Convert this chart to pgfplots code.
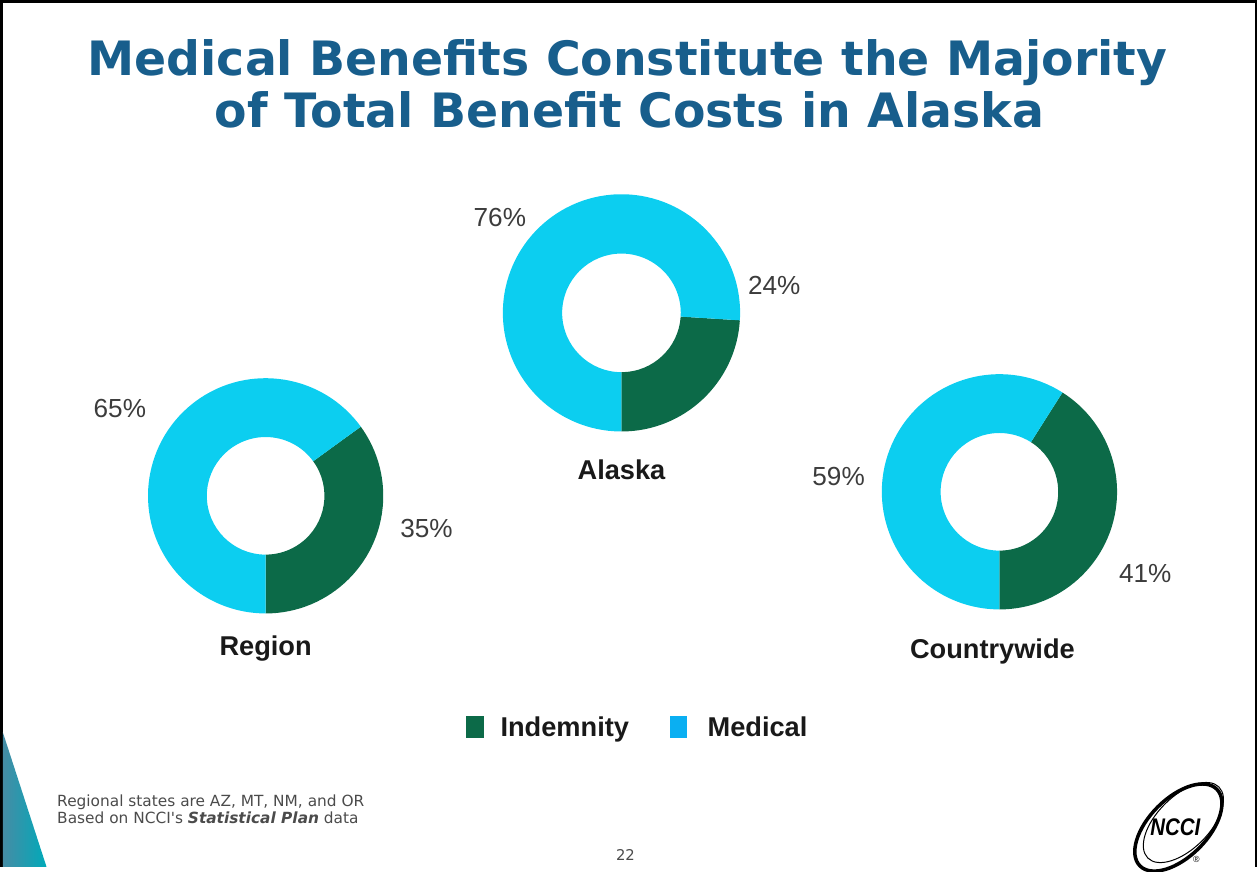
\documentclass[border=0pt]{standalone}
\usepackage{pgfplots}
\pgfplotsset{compat=1.18}
\usepackage{pgfplotstable}
\usetikzlibrary{calc}
\usepackage{fontspec}
\setmainfont{Liberation Sans}
\newfontfamily\verdana{DejaVu Sans}

\definecolor{indem}{RGB}{12,106,72}
\definecolor{medic}{RGB}{12,206,240}
\definecolor{titleblue}{RGB}{24,94,140}
\definecolor{labgray}{RGB}{60,60,60}
\definecolor{notegray}{RGB}{75,75,75}

% one row per doughnut: centre, outer radius, shares, label positions (pixels, y down)
\pgfplotstableread{
name        cx   cy   rr   ind med ix   iy  mx  my  nx  ny
Region      270  498  117  35  65  430  531 125 411 270 657
Alaska      624  316  118  24  76  776  289 503 221 624 482
Countrywide 1000 494  117  41  59  1145 575 840 479 993 660
}\donuts

\newcommand\getd[2]{\pgfplotstablegetelem{#1}{#2}\of\donuts}
\newcommand\donut[1]{%
  \getd{#1}{cx}\let\cx\pgfplotsretval
  \getd{#1}{cy}\let\cy\pgfplotsretval
  \getd{#1}{rr}\let\rr\pgfplotsretval
  \getd{#1}{ind}\let\pind\pgfplotsretval
  \getd{#1}{med}\let\pmed\pgfplotsretval
  \getd{#1}{ix}\let\ix\pgfplotsretval
  \getd{#1}{iy}\let\iy\pgfplotsretval
  \getd{#1}{mx}\let\mx\pgfplotsretval
  \getd{#1}{my}\let\my\pgfplotsretval
  \getd{#1}{nx}\let\nx\pgfplotsretval
  \getd{#1}{ny}\let\ny\pgfplotsretval
  \getd{#1}{name}\let\dname\pgfplotsretval
  \pgfmathsetmacro\ea{-90+3.6*\pind}
  \pgfmathsetmacro\ro{0.1*\rr}
  \pgfmathsetmacro\ri{0.05*\rr}
  \edef\doit{%
    \noexpand\fill[indem] ($(axis cs:\cx,\cy)+(-90:\ro mm)$) arc[start angle=-90,end angle=\ea,radius=\ro mm]
      -- ($(axis cs:\cx,\cy)+(\ea:\ri mm)$) arc[start angle=\ea,end angle=-90,radius=\ri mm] -- cycle;
    \noexpand\fill[medic] ($(axis cs:\cx,\cy)+(\ea:\ro mm)$) arc[start angle=\ea,end angle=270,radius=\ro mm]
      -- ($(axis cs:\cx,\cy)+(270:\ri mm)$) arc[start angle=270,end angle=\ea,radius=\ri mm] -- cycle;
    \noexpand\node[pct] at (axis cs:\ix,\iy) {\pind\noexpand\%};
    \noexpand\node[pct] at (axis cs:\mx,\my) {\pmed\noexpand\%};
    \noexpand\node[cat] at (axis cs:\nx,\ny) {\dname};
  }\doit}

\begin{document}
\begin{tikzpicture}[
  pct/.style={font=\fontsize{7.4}{8.5}\selectfont, text=labgray, inner sep=0pt, anchor=center},
  cat/.style={font=\fontsize{7.7}{9}\selectfont\bfseries, text=black!90, inner sep=0pt, anchor=base},
  ttl/.style={font=\verdana\fontsize{13.4}{16}\selectfont\bfseries, text=titleblue, inner sep=0pt, anchor=base},
]
\begin{axis}[
  hide axis, scale only axis,
  width=125.7mm, height=86.7mm,
  xmin=0, xmax=1257, ymin=0, ymax=867,
  y dir=reverse, clip=false,
]
% slide frame and corner decoration
\draw[line width=0.25mm] (axis cs:7,867) -- (axis cs:7,6) -- (axis cs:1255,6) -- (axis cs:1255,867);
\shade[left color={rgb,255:red,70;green,140;blue,165}, right color={rgb,255:red,0;green,170;blue,185}]
  (axis cs:8.5,733) -- (axis cs:52,867) -- (axis cs:8.5,867) -- cycle;

\node[ttl] at (axis cs:630,80) {Medical Benefits Constitute the Majority};
\node[ttl] at (axis cs:632,132) {of Total Benefit Costs in Alaska};

\donut{0}
\donut{1}
\donut{2}

% legend
\fill[indem] (axis cs:469,717) rectangle (axis cs:487,739);
\node[cat, anchor=base west] at (axis cs:503,737) {Indemnity};
\fill[medic!85!blue] (axis cs:672,717) rectangle (axis cs:689,739);
\node[cat, anchor=base west] at (axis cs:709,737) {Medical};

% notes
\node[font=\verdana\fontsize{4.35}{4.75}\selectfont, text=notegray, align=left, anchor=north west, inner sep=0pt]
  at (axis cs:62,795) {Regional states are AZ, MT, NM, and OR\\Based on NCCI's \textbf{\textit{Statistical Plan}} data};
\node[font=\verdana\fontsize{4.2}{4.5}\selectfont, text=notegray, inner sep=0pt] at (axis cs:628,855) {22};

% logo
\draw[line width=0.35mm, rotate around={45:(axis cs:1178,828)}] (axis cs:1178,828) ellipse[x radius=5.4mm, y radius=2.9mm];
\draw[line width=0.1mm, rotate around={45:(axis cs:1183,823)}] (axis cs:1183,823) ellipse[x radius=5.0mm, y radius=2.6mm];
\node[font=\fontsize{6.8}{7}\selectfont\bfseries\itshape, inner sep=0pt, xscale=0.85] at (axis cs:1175,828) {NCCI};
\node[font=\fontsize{2.5}{3}\selectfont, inner sep=0pt] at (axis cs:1196,860) {\textregistered};
\end{axis}
\end{tikzpicture}
\end{document}
